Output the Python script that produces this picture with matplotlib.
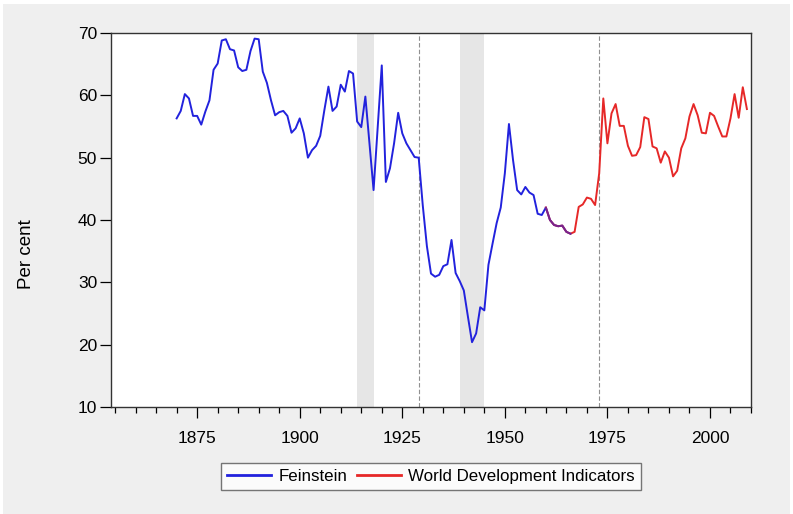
import matplotlib
matplotlib.use("Agg")
import matplotlib.pyplot as plt
from matplotlib.patches import Rectangle
from matplotlib.ticker import MultipleLocator

plt.rcParams['font.family'] = ['Liberation Sans Narrow', 'Liberation Sans', 'DejaVu Sans']

# Feinstein series, 1870-1966
fein_years = list(range(1870, 1967))
fein_vals = [
    56.3, 57.5, 60.2, 59.5, 56.7, 56.7, 55.3, 57.4, 59.2, 64.1,   # 1870s
    65.1, 68.8, 69.0, 67.4, 67.2, 64.5, 63.9, 64.1, 67.1, 69.1,   # 1880s
    69.0, 63.8, 62.0, 59.2, 56.8, 57.3, 57.5, 56.7, 54.0, 54.7,   # 1890s
    56.3, 53.9, 50.0, 51.2, 51.9, 53.5, 57.6, 61.4, 57.5, 58.2,   # 1900s
    61.7, 60.6, 63.9, 63.5, 55.8, 54.9, 59.8, 52.3, 44.8, 54.8,   # 1910s
    64.8, 46.1, 48.3, 52.3, 57.2, 53.9, 52.3, 51.2, 50.1, 50.0,   # 1920s
    42.3, 35.8, 31.4, 30.9, 31.2, 32.6, 32.9, 36.8, 31.5, 30.2,   # 1930s
    28.7, 24.5, 20.4, 21.8, 26.0, 25.5, 32.8, 36.2, 39.5, 42.0,   # 1940s
    47.5, 55.4, 49.6, 44.8, 44.1, 45.3, 44.4, 44.0, 41.0, 40.8,   # 1950s
    42.0, 40.0, 39.2, 39.0, 39.1, 38.1, 37.8,                     # 1960s
]

# World Development Indicators, 1960-2009
wdi_years = list(range(1960, 2010))
wdi_vals = [
    42.0, 40.0, 39.2, 39.0, 39.1, 38.1, 37.8, 38.1, 42.1, 42.5,   # 1960s
    43.6, 43.4, 42.4, 47.5, 59.5, 52.3, 57.1, 58.6, 55.1, 55.1,   # 1970s
    51.9, 50.3, 50.4, 51.7, 56.5, 56.2, 51.8, 51.5, 49.2, 51.0,   # 1980s
    50.0, 47.0, 47.9, 51.5, 53.1, 56.6, 58.6, 56.8, 54.0, 53.9,   # 1990s
    57.2, 56.7, 55.0, 53.4, 53.4, 56.3, 60.2, 56.4, 61.3, 57.8,   # 2000s
]

war_periods = [(1914, 1918), (1939, 1945)]
break_years = [1929, 1973]

fig = plt.figure(figsize=(7.93, 5.14), dpi=100)
fig.patch.set_facecolor("white")
fig.patches.append(Rectangle((3 / 793, 0), 1 - 6 / 793, 1 - 4 / 514,
                             transform=fig.transFigure, facecolor="#efefef",
                             edgecolor="none", zorder=-10))

ax = fig.add_axes([111 / 793, 1 - 407 / 514, 640 / 793, 374 / 514])
ax.set_facecolor("white")

for start, end in war_periods:
    ax.axvspan(start, end, color="#e6e6e6", lw=0, zorder=0)
for yr in break_years:
    ax.axvline(yr, color="#909090", lw=0.8, ls=(0, (4, 2)), zorder=1)

ax.plot(fein_years, fein_vals, color="#2222dd", lw=1.4, label="Feinstein", zorder=3)
ax.plot(wdi_years, wdi_vals, color="#e62828", lw=1.4,
        label="World Development Indicators", zorder=2)
# overlap of both sources looks purple in the original
ax.plot(wdi_years[:7], wdi_vals[:7], color="#e62828", lw=1.4, alpha=0.45, zorder=4)

ax.set_xlim(1854, 2010)
ax.set_ylim(10, 70)
ax.xaxis.set_minor_locator(MultipleLocator(5))
ax.set_xticks(range(1875, 2001, 25))
ax.yaxis.set_major_locator(MultipleLocator(10))
ax.tick_params(axis="x", which="major", length=8, width=0.9, labelsize=12.5, pad=9)
ax.tick_params(axis="x", which="minor", length=4, width=0.9)
ax.tick_params(axis="y", which="major", length=8, width=0.9, labelsize=12.5, pad=2)
for s in ax.spines.values():
    s.set_linewidth(1.0)
    s.set_color("#333333")

ax.set_ylabel("Per cent", fontsize=13.5)
ax.yaxis.set_label_coords(-0.118, 0.41)

leg = ax.legend(loc="upper center", bbox_to_anchor=(0.5, -0.128), ncol=2,
                frameon=True, fancybox=False, fontsize=12.2, handlelength=2.6,
                columnspacing=0.6, handletextpad=0.4, borderpad=0.35)
leg.get_frame().set_edgecolor("#555555")
leg.get_frame().set_linewidth(1.0)
for line in leg.get_lines():
    line.set_linewidth(2.0)

fig.savefig("out.png", dpi=100, facecolor=fig.get_facecolor())
